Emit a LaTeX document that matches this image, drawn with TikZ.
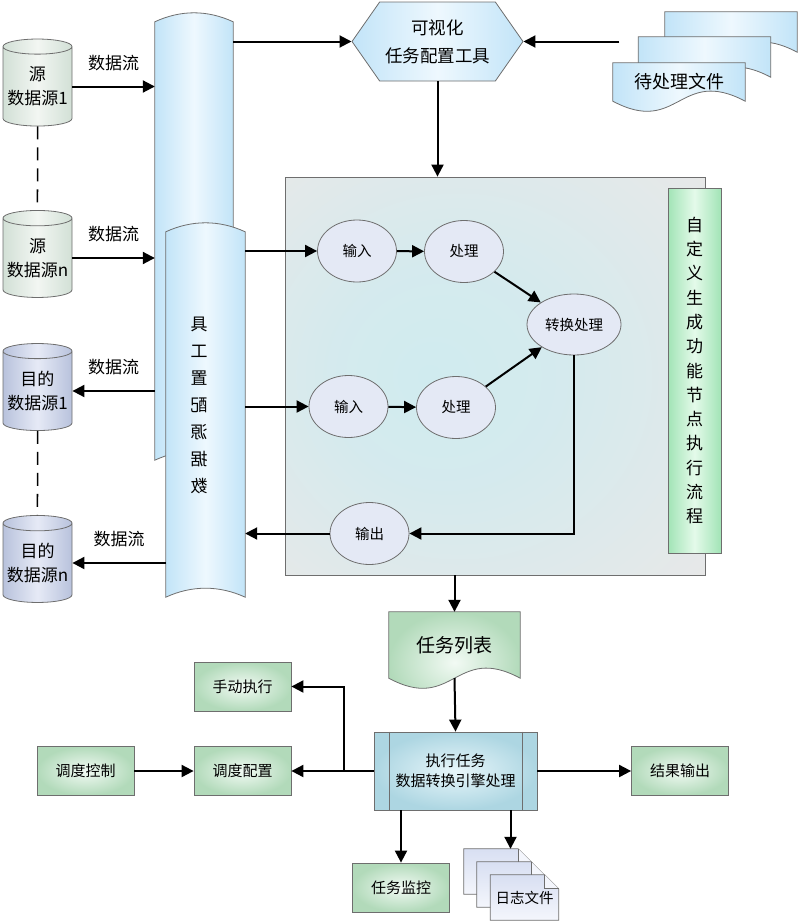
\documentclass[tikz,border=0pt]{standalone}
\usepackage{fontspec}
\setmainfont{Noto Sans CJK SC}
\usepackage{tikz}
\usetikzlibrary{shapes.geometric,shapes.symbols,backgrounds,calc}
\usetikzlibrary{arrows.meta}

\definecolor{edge}{HTML}{6E6E6E}
\definecolor{blueA}{HTML}{C2E4F8}
\definecolor{blueB}{HTML}{EEF8FE}
\definecolor{srcA}{HTML}{D2E0D6}
\definecolor{srcB}{HTML}{F2F6F2}
\definecolor{dstA}{HTML}{B8C2DC}
\definecolor{dstB}{HTML}{E6EAF6}
\definecolor{ellA}{HTML}{E4E9F5}
\definecolor{boxA}{HTML}{E8E8E8}
\definecolor{boxB}{HTML}{D0EBEF}
\definecolor{barA}{HTML}{A2E4B6}
\definecolor{barB}{HTML}{E4FAEA}
\definecolor{greenA}{HTML}{B2DABA}
\definecolor{greenB}{HTML}{F2FAF4}
\definecolor{execA}{HTML}{ADD6E2}
\definecolor{execB}{HTML}{E8F6FA}
\definecolor{pageA}{HTML}{D8DFF2}
\definecolor{pageB}{HTML}{F4F6FC}

\pgfdeclareradialshading{boxglow}{\pgfpoint{-8bp}{0bp}}{color(0bp)=(boxB); color(14bp)=(boxB!80!boxA); color(38bp)=(boxA); color(50bp)=(boxA)}

\begin{document}
\begin{tikzpicture}[x=1pt,y=-1pt,
    flow/.style={line width=2pt,-{Triangle[length=12pt,width=12pt]}},
    lbl/.style={font=\fontsize{17}{20}\selectfont, inner sep=0pt},
    cyl/.style={cylinder, shape border rotate=90, aspect=0.25, draw=edge, line width=0.8pt, minimum width=69pt, minimum height=87pt, inner sep=0pt, align=center, font=\fontsize{17}{24}\selectfont},
    srccyl/.style={cyl, left color=srcA, right color=srcA, middle color=srcB},
    dstcyl/.style={cyl, left color=dstA, right color=dstA, middle color=dstB},
    proc/.style={ellipse, draw=edge, line width=0.8pt, fill=ellA, minimum width=79pt, minimum height=62pt, inner sep=0pt, font=\fontsize{14.5}{17}\selectfont},
    gbox/.style={draw=edge, line width=0.8pt, inner color=greenB, outer color=greenA, minimum width=97pt, minimum height=49pt, font=\fontsize{15}{18}\selectfont},
    shapeshade/.style={draw=edge, line width=0.8pt, left color=blueA, right color=blueA, middle color=blueB},
    pageshade/.style={draw=edge, line width=0.8pt, top color=pageA, bottom color=pageB}]
    \useasboundingbox (0,0) rectangle (800,924);

    % data sources
    \node[srccyl] (src1) at (37.5,86.5) {源\\数据源1};
    \node[srccyl] (srcn) at (37.5,258) {源\\数据源n};
    \node[dstcyl] (dst1) at (37.5,391) {目的\\数据源1};
    \node[dstcyl] (dstn) at (37.5,563) {目的\\数据源n};
    \draw[line width=1.5pt, dash pattern=on 13pt off 8pt] (src1.south) -- (srcn.north);
    \draw[line width=1.5pt, dash pattern=on 13pt off 8pt] (dst1.south) -- (dstn.north);

    % configuration tool (two tapes)
    \node[minimum width=78pt, minimum height=438pt, inner sep=0pt] (cfgback) at (194,241) {};
    \node[minimum width=79pt, minimum height=365pt, inner sep=0pt] (cfg) at (205.5,414.5) {};
    \node[xscale=-1, align=center, inner sep=0pt, font=\fontsize{17}{27}\selectfont] (cfgtxt) at (199,405) {具\\工\\置\\配\\源\\据\\数};

    % visual task tool and pending files
    \node[signal, signal to=west and east, signal pointer angle=110, draw=edge, line width=0.8pt, left color=blueA, right color=blueA, middle color=blueB, minimum width=171pt, minimum height=79pt, inner sep=0pt, align=center, font=\fontsize{17.5}{28}\selectfont] (tool) at (437.5,41.5) {可视化\\任务配置工具};
    \node[minimum width=132pt, minimum height=40pt, inner sep=0pt] (pend3) at (731,32) {};
    \node[minimum width=132pt, minimum height=40pt, inner sep=0pt] (pend2) at (704.5,57) {};
    \node[minimum width=132pt, minimum height=38pt, inner sep=0pt, font=\fontsize{18}{20}\selectfont] (pend1) at (679,82) {待处理文件};

    % flow box
    \node[draw=edge, line width=0.8pt, shade, shading=boxglow, minimum width=420pt, minimum height=398pt] (flow) at (495,376) {};
    \node[draw=edge, line width=0.8pt, left color=barA, right color=barA, middle color=barB, minimum width=53pt, minimum height=365pt, inner sep=0pt, align=center, font=\fontsize{17}{24.3}\selectfont] (custom) at (694.5,370.5) {自\\定\\义\\生\\成\\功\\能\\节\\点\\执\\行\\流\\程};
    \node[proc] (in1) at (357,251) {输入};
    \node[proc] (pr1) at (464,251.5) {处理};
    \node[proc, minimum width=94pt, minimum height=61pt] (conv) at (574,324.5) {转换处理};
    \node[proc] (in2) at (348.5,406.5) {输入};
    \node[proc] (pr2) at (456,407.5) {处理};
    \node[proc] (out) at (369.5,533.5) {输出};

    % task list and engine
    \node[minimum width=131pt, minimum height=66pt, inner sep=0pt, font=\fontsize{19}{22}\selectfont] (tasks) at (454.5,645) {任务列表};
    \node[draw=edge, line width=0.8pt, inner color=execB, outer color=execA, minimum width=163pt, minimum height=78pt, align=center, font=\fontsize{15}{20}\selectfont] (exec) at (455.5,771) {执行任务\\数据转换引擎处理};
    \draw[edge, line width=0.8pt] ([xshift=16pt]exec.north west) -- ([xshift=16pt]exec.south west);
    \draw[edge, line width=0.8pt] ([xshift=-15pt]exec.north east) -- ([xshift=-15pt]exec.south east);
    \node[gbox] (manual) at (242.5,686.5) {手动执行};
    \node[gbox] (sched) at (242.5,771) {调度配置};
    \node[gbox] (ctrl) at (85.5,771) {调度控制};
    \node[gbox] (result) at (680,771) {结果输出};
    \node[gbox] (monitor) at (401,887.5) {任务监控};
    \node[minimum width=68pt, minimum height=45pt, inner sep=0pt] (log3) at (498,871.5) {};
    \node[minimum width=68pt, minimum height=45pt, inner sep=0pt] (log2) at (511,884.5) {};
    \node[minimum width=68pt, minimum height=45pt, inner sep=0pt, font=\fontsize{14.5}{17}\selectfont] (log1) at (524.5,897.5) {日志文件};

    \begin{scope}[on background layer]
    \shadedraw[shapeshade] (cfgback.north west) .. controls +(26,-12) and +(-26,-12) .. (cfgback.north east) -- (cfgback.south east) .. controls +(-26,-12) and +(26,-12) .. (cfgback.south west) -- cycle;
    \shadedraw[shapeshade] (cfg.north west) .. controls +(26,-12) and +(-26,-12) .. (cfg.north east) -- (cfg.south east) .. controls +(-26,-12) and +(26,-12) .. (cfg.south west) -- cycle;
    \foreach \d in {pend3,pend2,pend1}
        \shadedraw[shapeshade] (\d.north west) -- (\d.north east) -- (\d.south east) .. controls +(-66,-35) and +(66,35) .. (\d.south west) -- cycle;
    \shadedraw[draw=edge, line width=0.8pt, inner color=greenB, outer color=greenA] (tasks.north west) -- (tasks.north east) -- (tasks.south east) .. controls +(-65,-35) and +(65,35) .. (tasks.south west) -- cycle;
    \foreach \p in {log3,log2,log1} {
        \shadedraw[pageshade] (\p.north west) -- ([xshift=-14pt]\p.north east) -- ([yshift=-14pt]\p.north east) -- (\p.south east) -- (\p.south west) -- cycle;
        \draw[edge, line width=0.8pt, fill=pageB] ([xshift=-14pt]\p.north east) -- ([xshift=-14pt,yshift=-14pt]\p.north east) -- ([yshift=-14pt]\p.north east);
    }
    \end{scope}

    % data flows
    \draw[flow] (src1.east) -- node[lbl, above=15pt] (lab1) {数据流} (cfgback.west |- src1.east);
    \draw[flow] (srcn.east) -- node[lbl, above=15pt] (lab2) {数据流} (cfgback.west |- srcn.east);
    \draw[flow] (cfgback.west |- dst1.east) -- node[lbl, above=15pt] (lab3) {数据流} (dst1.east);
    \draw[flow] (cfg.west |- dstn.east) -- node[lbl, above=15pt] (lab4) {数据流} (dstn.east);
    \draw[flow] (cfgback.east |- tool.west) -- (tool.west);
    \draw[flow] ([xshift=-19pt]pend2.west |- tool.east) -- (tool.east);
    \draw[flow] (tool.south) -- (tool.south |- flow.north);
    \draw[flow] (cfg.east |- in1.west) -- (in1.west);
    \draw[flow] (cfg.east |- in2.west) -- (in2.west);
    \draw[flow] (in1) -- (pr1);
    \draw[flow] (in2) -- (pr2);
    \draw[flow] (pr1) -- (conv);
    \draw[flow] (pr2) -- (conv);
    \draw[flow] (conv.south) |- (out.east);
    \draw[flow] (out.west) -- (cfg.east |- out.west);
    \draw[flow] (tasks.north |- flow.south) -- (tasks.north);
    \draw[flow] (tasks.south) -- (exec.north);
    \draw[flow] (ctrl) -- (sched);
    \draw[flow] (exec.west) -- (sched.east);
    \draw[flow] ([xshift=-30pt]exec.west) |- (manual.east);
    \draw[flow] (exec.east) -- (result.west);
    \draw[flow] (monitor.north |- exec.south) -- (monitor.north);
    \draw[flow] ([xshift=55pt]exec.south) -- ([xshift=55pt]exec.south |- log3.north);
\end{tikzpicture}
\end{document}
